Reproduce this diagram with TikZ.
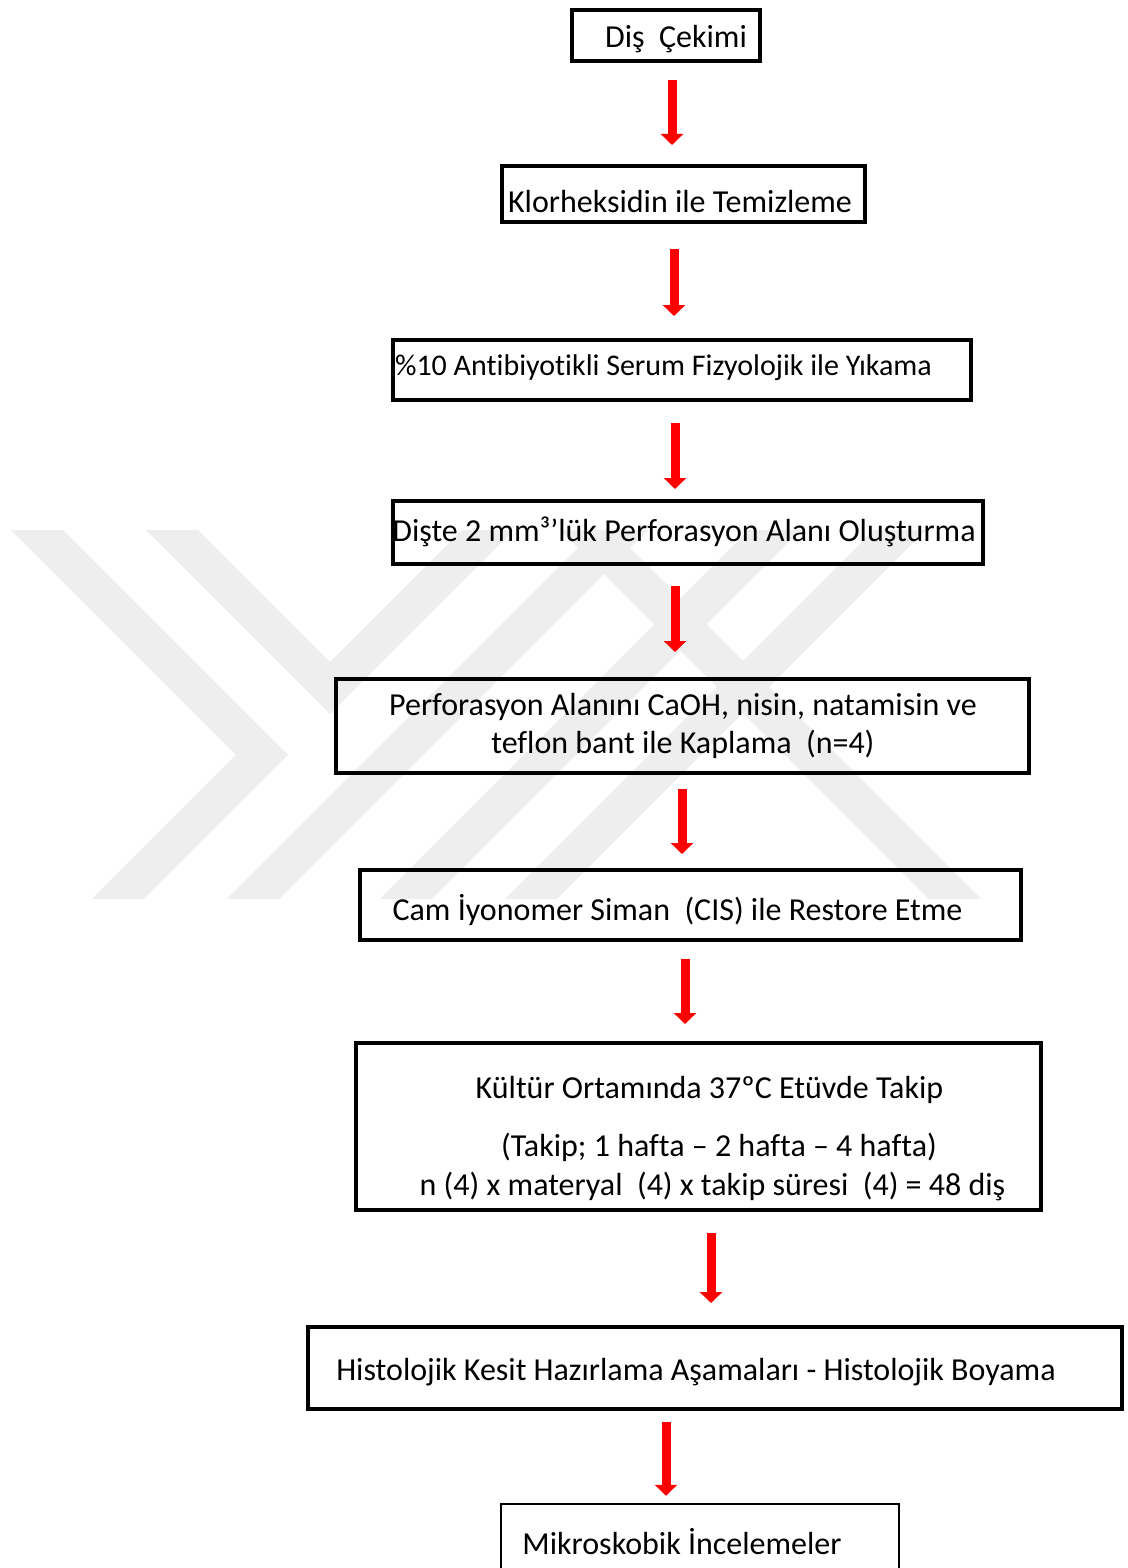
\documentclass[tikz,border=0pt]{standalone}
\usepackage{fontspec}
\setmainfont{Carlito}[Ligatures=NoCommon]
\usetikzlibrary{arrows.meta, calc}
\definecolor{wmgray}{RGB}{238, 238, 238}

\begin{document}
\begin{tikzpicture}[x=1pt, y=-1pt,
  box/.style={draw, line width=4pt, inner sep=0pt},
  txt/.style={inner sep=0pt, yshift=-2pt, font=\fontsize{32}{38}\selectfont},
  flow/.style={draw=red, line width=9pt, -{Triangle[width=22pt, length=11pt]}},
  wm/.style={draw=wmgray, line width=37pt, miter limit=10}]

  \useasboundingbox (0,0) rectangle (1127,1568);

  % watermark
  \begin{scope}
    \clip (0,530) rectangle (1127,898);
    \draw [wm] (-20,473) -- (262,755) -- (60,957);
    \draw [wm] (140,498) -- (330,688) -- (520,498);
    \draw [wm] (200,952) -- (654,498);
    \draw [wm] (353,952) -- (807,498);
    \draw [wm] (478,952) -- (932,498);
    \draw [wm] (554,498) -- (1008,952);
  \end{scope}

  % boxes
  \node [box, minimum width=188, minimum height=51] (k1) at (666,35.5) {};
  \node [box, minimum width=363, minimum height=56] (k2) at (683.5,194) {};
  \node [box, minimum width=578, minimum height=60] (k3) at (682,370) {};
  \node [box, minimum width=590, minimum height=63] (k4) at (688,532.5) {};
  \node [box, minimum width=693, minimum height=94] (k5) at (682.5,726) {};
  \node [box, minimum width=661, minimum height=70] (k6) at (690.5,905) {};
  \node [box, minimum width=685, minimum height=167] (k7) at (698.5,1126.5) {};
  \node [box, minimum width=814, minimum height=82] (k8) at (715,1368) {};
  \node [box, line width=2.5pt, minimum width=398, minimum height=96] (k9) at (700,1552) {};

  % texts
  \node [txt] (t1) at (676,37) {Diş\ \ Çekimi};
  \node [txt] (t2) at (680,200) {Klorheksidin ile Temizleme};
  \node [txt, font=\fontsize{30}{36}\selectfont] (t3) at (663.5,366) {\%10 Antibiyotikli Serum Fizyolojik ile Yıkama};
  \node [txt] (t4) at (684,530) {Dişte 2 mm³’lük Perforasyon Alanı Oluşturma};
  \node [txt, align=center] (t5) at (683,724) {Perforasyon Alanını CaOH, nisin, natamisin ve\\
    teflon bant ile Kaplama\ \ (n=4)};
  \node [txt] (t6) at (677.5,908) {Cam İyonomer Siman\ \ (CIS) ile Restore Etme};
  \node [txt] (t7a) at (709.5,1088) {Kültür Ortamında 37ºC Etüvde Takip};
  \node [txt] (t7b) at (719,1145) {(Takip; 1 hafta – 2 hafta – 4 hafta)};
  \node [txt] (t7c) at (712.5,1184) {n (4) x materyal\ \ (4) x takip süresi\ \ (4) = 48 diş};
  \node [txt] (t8) at (696,1370) {Histolojik Kesit Hazırlama Aşamaları - Histolojik Boyama};
  \node [txt] (t9) at (682,1540) {Mikroskobik İncelemeler};

  % arrows
  \draw [flow] ($(k1.south)+(6,17)$) -- ($(k2.north)+(-11.5,-19)$);
  \draw [flow] ($(k2.south)+(-9.5,25)$) -- ($(k3.north)+(-8,-22)$);
  \draw [flow] ($(k3.south)+(-7,21)$) -- ($(k4.north)+(-13,-10)$);
  \draw [flow] ($(k4.south)+(-13,20)$) -- ($(k5.north)+(-7.5,-25)$);
  \draw [flow] ($(k5.south)+(-0.5,14)$) -- ($(k6.north)+(-8.5,-14)$);
  \draw [flow] ($(k6.south)+(-5.5,17)$) -- ($(k7.north)+(-13.5,-17)$);
  \draw [flow] ($(k7.south)+(12.5,21)$) -- ($(k8.north)+(-4,-22)$);
  \draw [flow] ($(k8.south)+(-49,11)$) -- ($(k9.north)+(-34,-7)$);

\end{tikzpicture}
\end{document}
